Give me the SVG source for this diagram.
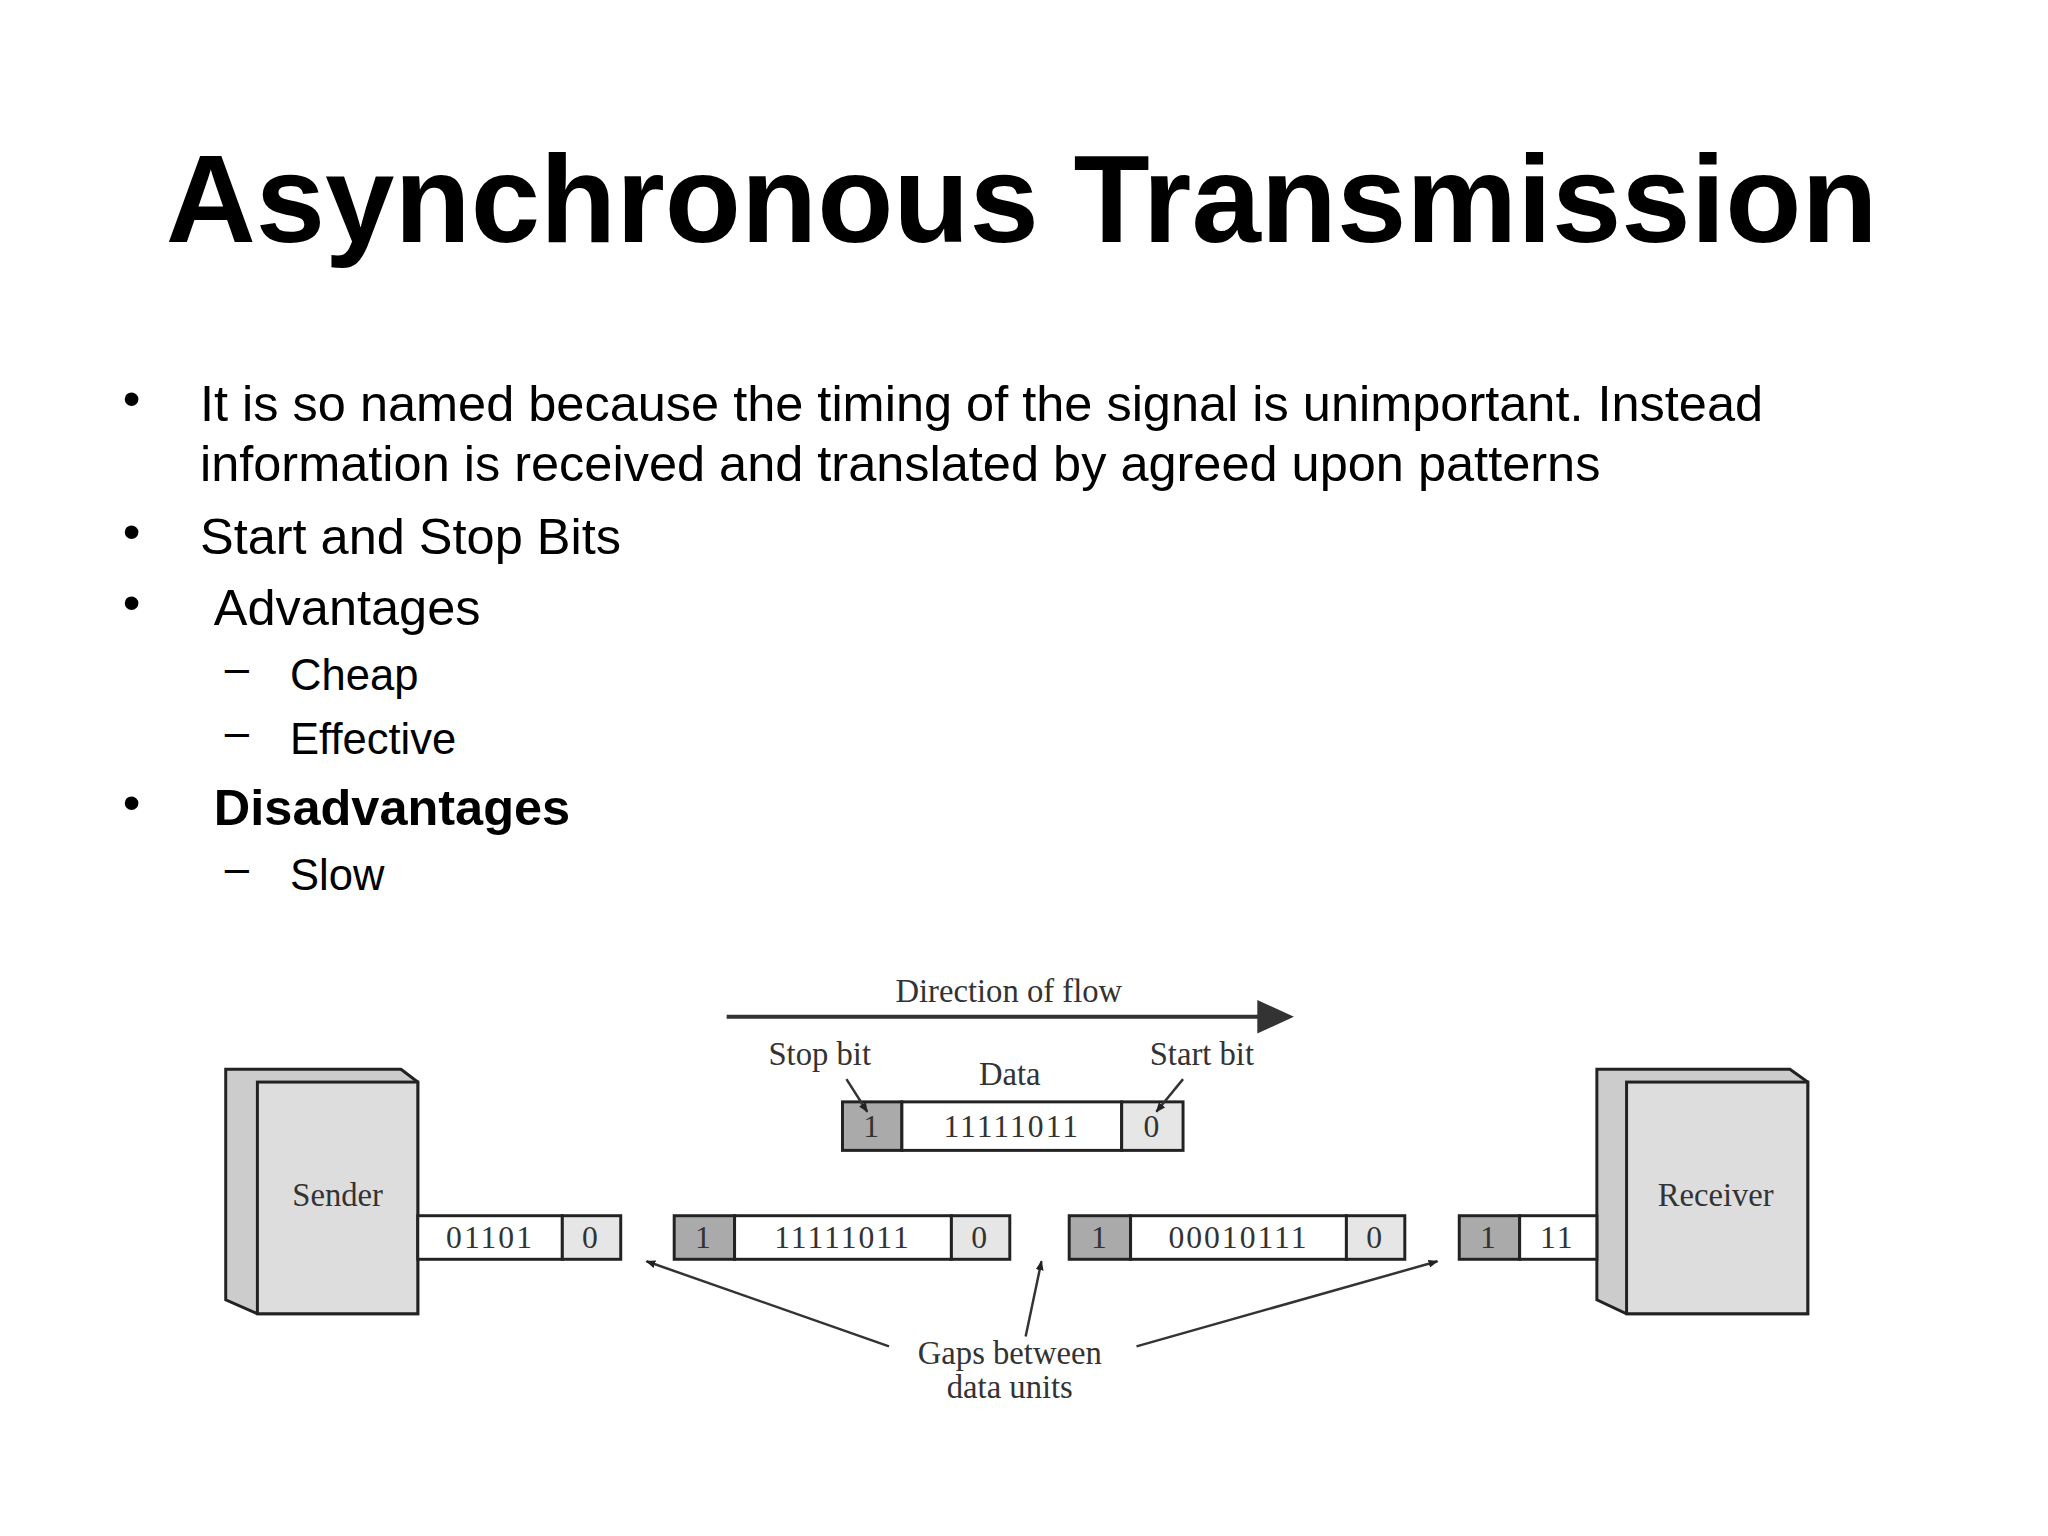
<svg xmlns="http://www.w3.org/2000/svg" width="2048" height="1536" viewBox="0 0 2048 1536">
<style>
.t{font-family:"Liberation Sans",Arial,sans-serif;fill:#000}
.b{font-size:51px}
.s{font-size:44px}
.d{font-family:"Liberation Serif","Times New Roman",serif;font-size:33px;fill:#333;text-anchor:middle}
.c{font-family:"Liberation Serif","Times New Roman",serif;font-size:32px;fill:#333;text-anchor:middle;letter-spacing:2px}
.cell{stroke:#222;stroke-width:3}
.ln{stroke:#333;stroke-width:2.5;fill:none}
</style>
<defs>
<marker id="ah" markerWidth="10" markerHeight="10" refX="9" refY="5" orient="auto" markerUnits="userSpaceOnUse"><path d="M0,1 L10,5 L0,9 z" fill="#222"/></marker>
</defs>
<rect width="2048" height="1536" fill="#fff"/>
<g transform="scale(0.99)">
<text class="t" x="1032" y="244" font-size="126" font-weight="bold" text-anchor="middle">Asynchronous Transmission</text>
<g id="bullets">
<text class="t b" x="124" y="420">•</text>
<text class="t b" x="202" y="425">It is so named because the timing of the signal is unimportant. Instead</text>
<text class="t b" x="202" y="486">information is received and translated by agreed upon patterns</text>
<text class="t b" x="124" y="555">•</text>
<text class="t b" x="202" y="560">Start and Stop Bits</text>
<text class="t b" x="124" y="626">•</text>
<text class="t b" x="216" y="631">Advantages</text>
<text class="t s" x="227" y="690">–</text>
<text class="t s" x="293" y="697">Cheap</text>
<text class="t s" x="227" y="755">–</text>
<text class="t s" x="293" y="762">Effective</text>
<text class="t b" x="124" y="828">•</text>
<text class="t b" x="216" y="833" font-weight="bold">Disadvantages</text>
<text class="t s" x="227" y="892">–</text>
<text class="t s" x="293" y="899">Slow</text>
</g>
<g id="sender">
<polygon points="228,1080 405,1080 422,1093 422,1327 260,1327 228,1313" fill="#ccc" stroke="#222" stroke-width="3"/>
<rect x="260" y="1093" width="162" height="234" fill="#ddd" stroke="#222" stroke-width="3"/>
<text class="d" x="341" y="1218">Sender</text>
</g>
<g id="receiver">
<polygon points="1613,1080 1808,1080 1826,1093 1826,1327 1643,1327 1613,1313" fill="#ccc" stroke="#222" stroke-width="3"/>
<rect x="1643" y="1093" width="183" height="234" fill="#ddd" stroke="#222" stroke-width="3"/>
<text class="d" x="1733" y="1218">Receiver</text>
</g>
<g id="frame-top">
<rect class="cell" x="851" y="1113" width="60" height="49" fill="#aaa"/>
<rect class="cell" x="911" y="1113" width="222" height="49" fill="#fff"/>
<rect class="cell" x="1133" y="1113" width="62" height="49" fill="#e6e6e6"/>
<text class="c" x="881" y="1149">1</text><text class="c" x="1022" y="1149">11111011</text><text class="c" x="1164" y="1149">0</text>
<text class="d" x="828" y="1076">Stop bit</text><text class="d" x="1020" y="1096">Data</text><text class="d" x="1214" y="1076">Start bit</text>
</g>
<g id="frame1">
<rect class="cell" x="422" y="1228" width="146" height="44" fill="#fff"/>
<rect class="cell" x="568" y="1228" width="59" height="44" fill="#e6e6e6"/>
<text class="c" x="495" y="1261">01101</text><text class="c" x="597" y="1261">0</text>
</g>
<g id="frame2">
<rect class="cell" x="681" y="1228" width="61" height="44" fill="#aaa"/>
<rect class="cell" x="742" y="1228" width="219" height="44" fill="#fff"/>
<rect class="cell" x="961" y="1228" width="59" height="44" fill="#e6e6e6"/>
<text class="c" x="711" y="1261">1</text><text class="c" x="851" y="1261">11111011</text><text class="c" x="990" y="1261">0</text>
</g>
<g id="frame3">
<rect class="cell" x="1080" y="1228" width="62" height="44" fill="#aaa"/>
<rect class="cell" x="1142" y="1228" width="218" height="44" fill="#fff"/>
<rect class="cell" x="1360" y="1228" width="59" height="44" fill="#e6e6e6"/>
<text class="c" x="1111" y="1261">1</text><text class="c" x="1251" y="1261">00010111</text><text class="c" x="1389" y="1261">0</text>
</g>
<g id="frame4">
<rect class="cell" x="1474" y="1228" width="61" height="44" fill="#aaa"/>
<rect class="cell" x="1535" y="1228" width="78" height="44" fill="#fff"/>
<text class="c" x="1504" y="1261">1</text><text class="c" x="1573" y="1261">11</text>
</g>
<g id="connectors">
<line x1="734" y1="1027" x2="1290" y2="1027" stroke="#333" stroke-width="4"/>
<polygon points="1270,1010 1307,1027 1270,1044" fill="#333"/>
<text class="d" x="1019" y="1012">Direction of flow</text>
<line class="ln" x1="855" y1="1090" x2="876" y2="1123" marker-end="url(#ah)"/>
<line class="ln" x1="1195" y1="1090" x2="1168" y2="1123" marker-end="url(#ah)"/>
<line class="ln" x1="898" y1="1360" x2="653" y2="1274" marker-end="url(#ah)"/>
<line class="ln" x1="1036" y1="1350" x2="1052" y2="1274" marker-end="url(#ah)"/>
<line class="ln" x1="1148" y1="1360" x2="1452" y2="1274" marker-end="url(#ah)"/>
<text class="d" x="1020" y="1378" font-size="31">Gaps between</text>
<text class="d" x="1020" y="1412" font-size="31">data units</text>
</g>
</g>
</svg>
